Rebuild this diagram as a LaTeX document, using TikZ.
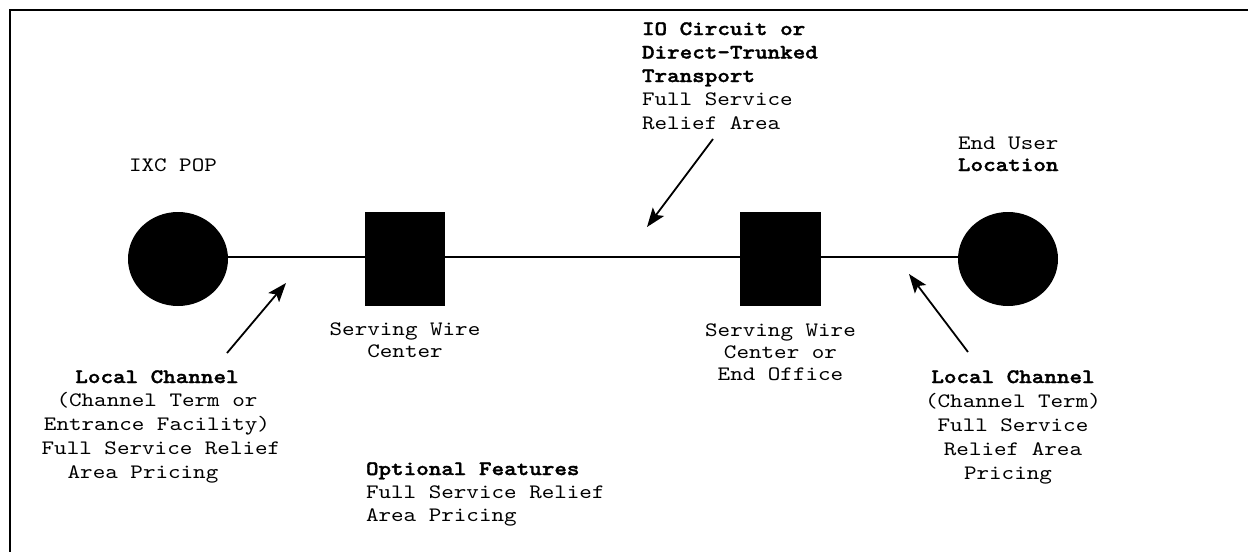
\documentclass[tikz,border=0pt]{standalone}
\usepackage{fontspec}
\setmonofont{lmmono10-regular.otf}[BoldFont=lmmonolt10-bold.otf,BoldFeatures={FakeBold=1.6},FakeStretch=1.167]
\usetikzlibrary{shapes.geometric,arrows.meta}
\tikzset{
  endpt/.style={ellipse,fill=black,draw=none,inner sep=0pt,minimum width=100pt,minimum height=94pt},
  office/.style={rectangle,fill=black,draw=none,inner sep=0pt,minimum height=94pt},
  link/.style={line width=2pt,black},
  pointer/.style={line width=1.8pt,black,-{Stealth[length=19pt,width=14pt,inset=4pt]}},
  lbl/.style={inner sep=0pt,outer sep=0pt,font=\ttfamily\fontsize{20.5}{#1}\selectfont},
  lbl/.default=23.5,
  frame/.style={line width=2pt,black}
}
\begin{document}
\begin{tikzpicture}[x=1pt,y=-1pt]
\useasboundingbox (0,0) rectangle (1248,552);
% frame (top and left only)
\draw[frame] (1248,10) -- (10,10) -- (10,552);
% nodes
\node[endpt] (pop) at (178,259) {};
\node[office,minimum width=80pt] (swc1) at (405,259) {};
\node[office,minimum width=81pt] (swc2) at (780.5,259) {};
\node[endpt] (eu) at (1008,259) {};
% links
\draw[link] ([yshift=2pt]pop.east) -- ([yshift=2pt]swc1.west);
\draw[link] ([yshift=2pt]swc1.east) -- ([yshift=2pt]swc2.west);
\draw[link] ([yshift=2pt]swc2.east) -- ([yshift=2pt]eu.west);
% labels (anchor = baseline of the last line)
\node[lbl,anchor=base west] (ixc) at (129,171) {IXC POP};
\node[lbl=23.5,anchor=base west,align=left] (io) at (642,129)
  {\textbf{IO Circuit or}\\\textbf{Direct-Trunked}\\\textbf{Transport}\\Full Service\\Relief Area};
\node[lbl=22,anchor=base west,align=left] (eul) at (958,171)
  {End User\\\textbf{Location}};
\node[lbl=22.5,anchor=base,align=center] (swc1l) at (405,357.5)
  {Serving Wire\\Center};
\node[lbl=22,anchor=base,align=center] (swc2l) at (780.5,380)
  {Serving Wire\\Center or\\End Office};
\node[lbl=23.75,anchor=base,align=center] (lc1) at (157,478)
  {\textbf{Local Channel}\\(Channel Term or\\Entrance Facility)\hspace*{4pt}\\\hspace*{8pt}Full Service Relief\\Area Pricing\hspace*{28pt}};
\node[lbl=24,anchor=base,align=center] (lc2) at (1013,479)
  {\textbf{Local Channel}\\(Channel Term)\\Full Service\\Relief Area\hspace*{12.5pt}\\Pricing\hspace*{10pt}};
\node[lbl=23,anchor=base west,align=left] (opt) at (366,521)
  {\textbf{Optional Features}\\Full Service Relief\\Area Pricing};
% pointers
\coordinate (p1s) at (227,353); \coordinate (p1e) at (286,283);
\coordinate (p2s) at (713,139); \coordinate (p2e) at (647,227);
\coordinate (p3s) at (968,352); \coordinate (p3e) at (909,274);
\draw[pointer] (p1s) -- (p1e);
\draw[pointer] (p2s) -- (p2e);
\draw[pointer] (p3s) -- (p3e);
\end{tikzpicture}
\end{document}
